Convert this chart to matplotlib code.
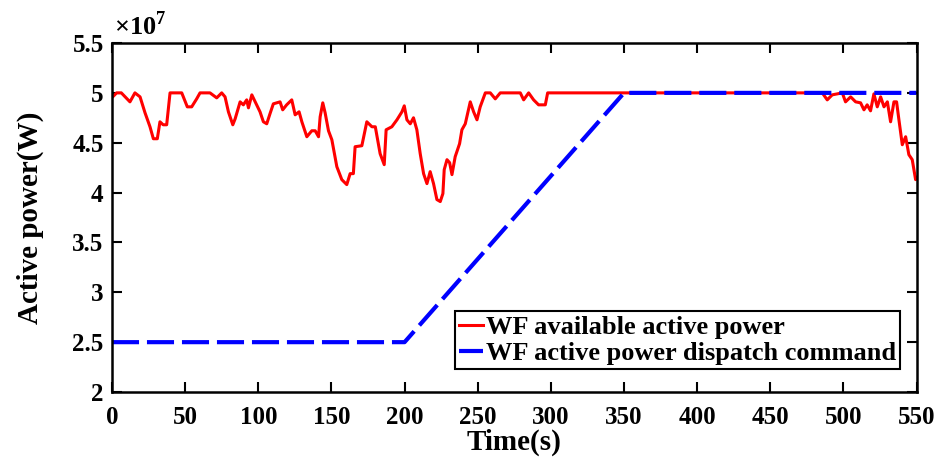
import numpy as np
import matplotlib
matplotlib.use("Agg")
import matplotlib.pyplot as plt
from matplotlib.ticker import FuncFormatter

plt.rcParams["font.family"] = ["Liberation Serif", "DejaVu Serif"]
plt.rcParams["font.weight"] = "bold"
plt.rcParams["mathtext.fontset"] = "custom"
plt.rcParams["mathtext.rm"] = "Liberation Serif:bold"

# wind farm available active power (W)
t_avail = [0, 0.5, 3.2, 6.4, 12.3, 15.7, 19.2, 22.6, 26, 28.3, 31, 32.8, 35, 37.4,
           39.7, 47.7, 51.5, 54.5, 57.9, 60.2, 67, 71.6, 75, 77.3, 79.6, 82.6, 84.2,
           87.6, 89.8, 92.1, 93.3, 95.6, 97.9, 101.2, 103.5, 105.8, 108, 110.3, 114.9,
           116.7, 119.4, 122.9, 125.2, 127.9, 129.8, 133.2, 136.6, 138.9, 141.2, 142.3,
           144.1, 145.7, 148, 150.3, 153.7, 157.1, 160.5, 162.8, 165, 166.2, 170.8,
           174.2, 177.7, 180, 183.3, 186.1, 187.4, 191.3, 194.8, 198.2, 199.8, 201.6,
           203.9, 206.1, 208.4, 210.7, 213, 215.3, 217.5, 219.8, 222.1, 224.4, 226.2,
           227.1, 229, 230.8, 232.4, 234.6, 237.6, 239.2, 241.5, 244.9, 247.2, 249.5,
           251.7, 255.2, 258.6, 262, 265.4, 279.1, 281.4, 284.8, 288.2, 291.6, 296.2,
           297.8, 485.5, 488.9, 492.3, 499.2, 501.4, 504.9, 508.3, 511.7, 514, 516.2,
           518.5, 520.8, 523.1, 525.4, 527.7, 530, 532.2, 534.5, 536.3, 537.9, 540.2,
           542.5, 544.7, 547, 549.3, 550]
p_avail = [4.96, 4.96, 5.0, 5.0, 4.91, 5.0, 4.96, 4.80, 4.66, 4.54, 4.54, 4.71, 4.68,
           4.68, 5.0, 5.0, 4.86, 4.86, 4.94, 5.0, 5.0, 4.95, 5.0, 4.96, 4.81, 4.68, 4.74,
           4.91, 4.88, 4.93, 4.85, 4.98, 4.91, 4.81, 4.71, 4.69, 4.79, 4.89, 4.91, 4.83,
           4.88, 4.93, 4.78, 4.81, 4.71, 4.56, 4.62, 4.62, 4.56, 4.76, 4.90, 4.80, 4.62,
           4.53, 4.26, 4.13, 4.08, 4.19, 4.19, 4.46, 4.47, 4.71, 4.66, 4.66, 4.39, 4.28,
           4.63, 4.66, 4.73, 4.81, 4.87, 4.73, 4.69, 4.75, 4.63, 4.39, 4.19, 4.09, 4.21,
           4.09, 3.93, 3.91, 3.99, 4.23, 4.33, 4.30, 4.18, 4.36, 4.49, 4.63, 4.69, 4.91,
           4.81, 4.73, 4.86, 5.0, 5.0, 4.94, 5.0, 5.0, 4.93, 5.0, 4.93, 4.88, 4.88, 5.0,
           5.0, 4.93, 4.98, 5.0, 4.91, 4.96, 4.91, 4.90, 4.83, 4.88, 4.82, 4.99, 4.86,
           4.96, 4.86, 4.91, 4.71, 4.91, 4.91, 4.73, 4.48, 4.56, 4.38, 4.33, 4.13, 4.15]

# dispatch command (W)
t_cmd = [0, 200, 350, 550]
p_cmd = [2.5, 2.5, 5.0, 5.0]

scale = 1e7
p_avail = np.array(p_avail) * scale
p_cmd = np.array(p_cmd) * scale

fig = plt.figure(figsize=(9.44, 4.63), dpi=100)
ax = fig.add_axes([0.1186, 0.1533, 0.8524, 0.7538])

ax.plot(t_avail, p_avail, "-", color="red", lw=2.2, label="WF available active power")
ax.plot(t_cmd, p_cmd, "--", color="blue", lw=3.0, dashes=(6.5, 1.9),
        label="WF active power dispatch command")

ax.set_xlim(0, 550)
ax.set_ylim(2e7, 5.5e7)
ax.set_xticks(np.arange(0, 551, 50))
ax.set_yticks(np.arange(2e7, 5.51e7, 0.5e7))
ax.yaxis.set_major_formatter(FuncFormatter(lambda v, pos: f"{v / scale:g}"))
ax.text(0.003, 1.008, r"$\times10^{7}$", transform=ax.transAxes, fontsize=19,
        ha="left", va="bottom")

ax.tick_params(direction="in", length=7, width=1.5, top=True, right=True,
               labelsize=18)
ax.tick_params(axis="x", pad=10)
ax.tick_params(axis="y", pad=6)
for s in ax.spines.values():
    s.set_linewidth(1.8)

ax.set_xlabel("Time(s)", fontsize=21, fontweight="bold", labelpad=0)
ax.set_ylabel("Active power(W)", fontsize=21, fontweight="bold", labelpad=20)

leg = ax.legend(loc="lower right", bbox_to_anchor=(0.979, 0.066), fontsize=19,
                frameon=True, fancybox=False, edgecolor="black", framealpha=1,
                handlelength=0.9, handletextpad=0.1, borderpad=0.15,
                labelspacing=0.1, borderaxespad=0)
leg.get_frame().set_linewidth(1.5)

fig.savefig("out.png", dpi=100)
